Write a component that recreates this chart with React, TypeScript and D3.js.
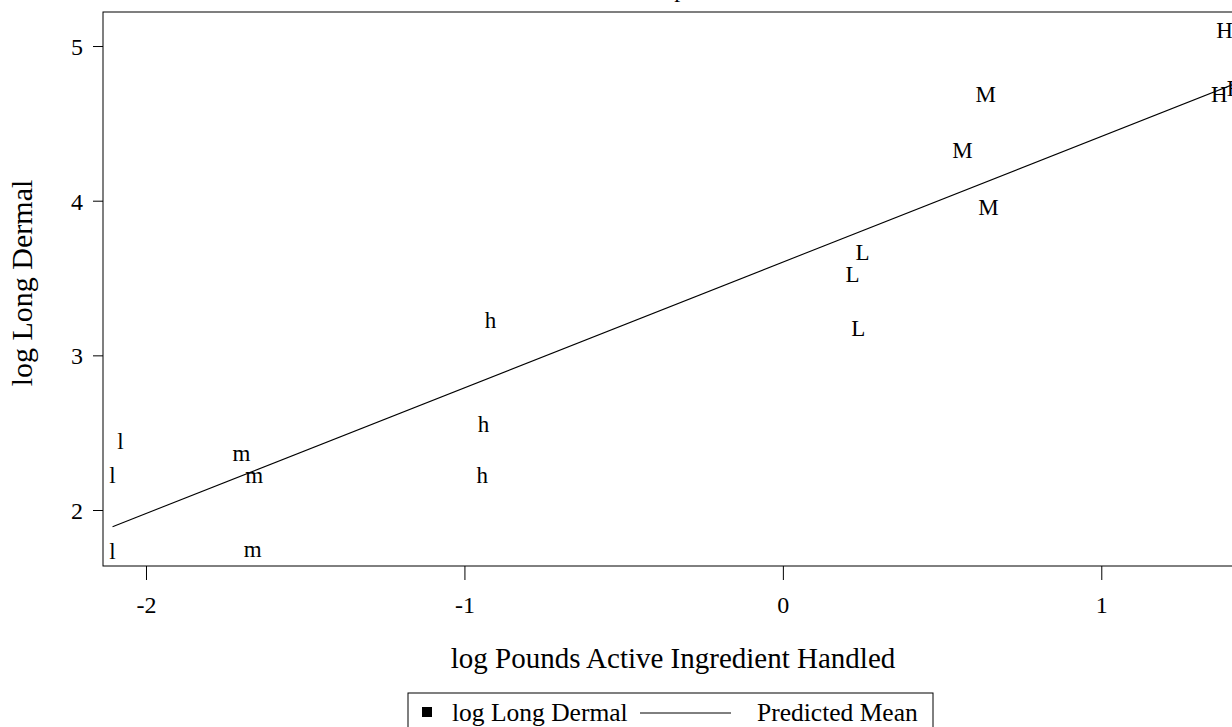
import React, { useEffect, useRef } from 'react'
import * as d3 from 'd3'

// observed points: x = log pounds AI handled, y = log long dermal, label = group symbol
const pointLabels = ['l', 'l', 'l', 'm', 'm', 'm', 'h', 'h', 'h', 'L', 'L', 'L', 'M', 'M', 'M', 'H', 'H', 'H']
const pointX = [-2.08, -2.105, -2.105, -1.70, -1.66, -1.665, -0.918, -0.94, -0.944, 0.25, 0.219, 0.237, 0.637, 0.564, 0.646, 1.387, 1.371, 1.42]
const pointY = [2.45, 2.23, 1.74, 2.37, 2.23, 1.75, 3.23, 2.56, 2.23, 3.67, 3.53, 3.18, 4.69, 4.33, 3.96, 5.11, 4.69, 4.73]

// predicted mean line endpoints
const predX = [-2.105, 1.42]
const predY = [1.892, 4.757]

const xTicks = [-2, -1, 0, 1]
const yTicks = [2, 3, 4, 5]

const FONT = '"Liberation Serif", "Times New Roman", serif'

const App = () => {
  const xAxisRef = useRef<SVGGElement>(null)
  const yAxisRef = useRef<SVGGElement>(null)

  const margin = { left: 103, top: 12, right: 1243, bottom: 566 }
  const xScale = d3.scaleLinear().domain([-2.135, 1.445]).range([margin.left, margin.right])
  const yScale = d3.scaleLinear().domain([1.638, 5.22]).range([margin.bottom, margin.top])

  useEffect(() => {
    const xaxis = d3.axisBottom(xScale).tickValues(xTicks).tickSize(14).tickPadding(16)
      .tickFormat(d => String(d))
    const xg = d3.select(xAxisRef.current).call(xaxis)
    xg.select('.domain').remove()
    xg.selectAll('text').attr('font-family', FONT).attr('font-size', 24).attr('fill', '#000')

    const yaxis = d3.axisLeft(yScale).tickValues(yTicks).tickSize(10).tickPadding(10)
      .tickFormat(d => String(d))
    const yg = d3.select(yAxisRef.current).call(yaxis)
    yg.select('.domain').remove()
    yg.selectAll('text').attr('font-family', FONT).attr('font-size', 24).attr('fill', '#000')
      .attr('dy', '0.35em')
  }, [])

  const line = d3.line<number>()
    .x((_, i) => xScale(predX[i]))
    .y((_, i) => yScale(predY[i]))

  return (
    <div style={{ position: 'fixed', left: 0, top: 0, background: '#fff' }}>
      <svg width={1232} height={727} style={{ display: 'block' }} fontFamily={FONT}>
        <rect x={0} y={0} width={1232} height={727} fill="#fff" />
        <text x={693} y={-3} textAnchor="middle" fontSize={24}>Exposure</text>
        <rect x={margin.left} y={margin.top} width={margin.right - margin.left} height={margin.bottom - margin.top}
          fill="none" stroke="#000" strokeWidth={1} />
        <g ref={xAxisRef} transform={`translate(0,${margin.bottom})`} />
        <g ref={yAxisRef} transform={`translate(${margin.left},0)`} />
        <path d={line(predX) || ''} fill="none" stroke="#000" strokeWidth={1.1} />
        {pointLabels.map((s, i) => (
          <text key={i} x={xScale(pointX[i])} y={yScale(pointY[i]) + 8.5} textAnchor="middle" fontSize={23}>{s}</text>
        ))}
        <text x={(margin.left + margin.right) / 2} y={668} textAnchor="middle" fontSize={29}>
          log Pounds Active Ingredient Handled
        </text>
        <text transform={`translate(32,${(margin.top + margin.bottom) / 2 - 6}) rotate(-90)`} textAnchor="middle" fontSize={30}>
          log Long Dermal
        </text>
        <g>
          <rect x={408} y={693} width={525} height={40} fill="none" stroke="#000" strokeWidth={1} />
          <rect x={422} y={707} width={10} height={10} fill="#000" />
          <text x={452} y={721} fontSize={25.5}>log Long Dermal</text>
          <line x1={640} x2={731} y1={713} y2={713} stroke="#000" strokeWidth={1} />
          <text x={757} y={721} fontSize={25.5}>Predicted Mean</text>
        </g>
      </svg>
    </div>
  )
}

export default App
